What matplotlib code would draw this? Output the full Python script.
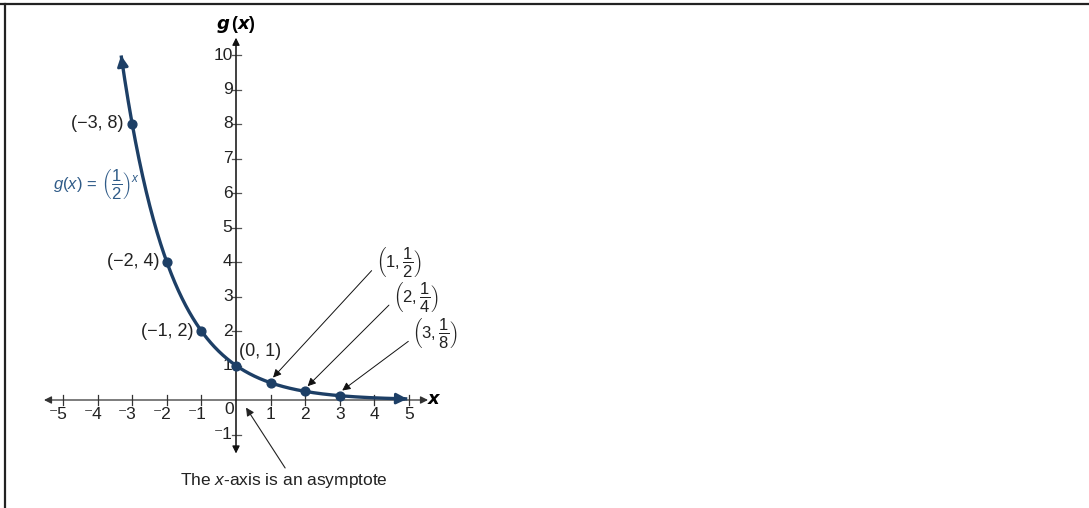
import numpy as np
import matplotlib
matplotlib.use("Agg")
import matplotlib.pyplot as plt
from matplotlib.lines import Line2D

plt.rcParams['font.family'] = ['Liberation Sans', 'DejaVu Sans']
plt.rcParams['mathtext.fontset'] = 'custom'
plt.rcParams['mathtext.rm'] = 'Liberation Sans'
plt.rcParams['mathtext.it'] = 'Liberation Sans:italic'
plt.rcParams['mathtext.bf'] = 'Liberation Sans:bold'

# data
x_pts = [-3, -2, -1, 0, 1, 2, 3]
y_pts = [8, 4, 2, 1, 0.5, 0.25, 0.125]
pt_labels = ['(−3, 8)', '(−2, 4)', '(−1, 2)', '(0, 1)']
frac_labels = [r'$\left(1,\dfrac{1}{2}\right)$', r'$\left(2,\dfrac{1}{4}\right)$',
               r'$\left(3,\dfrac{1}{8}\right)$']
x_ticks = [-5, -4, -3, -2, -1, 1, 2, 3, 4, 5]
y_ticks = [-1, 1, 2, 3, 4, 5, 6, 7, 8, 9, 10]
x_start, x_end = -3.32, 4.95


def g(x):
    return 0.5 ** x


curve_col = '#1d3f66'
func_col = '#2f5b88'

fig = plt.figure(figsize=(10.89, 5.08), dpi=100)
ax = fig.add_axes([0, 0, 1, 1])
ux = 34.6
uy = 34.5
ax.set_xlim(-236 / ux, (1089 - 236) / ux)
ax.set_ylim(-108 / uy, 400 / uy)
ax.axis('off')

# frame lines at top and left
fig.add_artist(Line2D([0, 1], [1 - 3.5 / 508] * 2, color='#222222', lw=1.6))
fig.add_artist(Line2D([4.5 / 1089] * 2, [0, 1 - 3.5 / 508], color='#222222', lw=1.6))

# axes
ax.annotate('', xy=(5.55, 0), xytext=(-5.55, 0),
            arrowprops=dict(arrowstyle='<|-|>', color='#333333', lw=0.9,
                            mutation_scale=11, shrinkA=0, shrinkB=0))
ax.annotate('', xy=(0, 10.5), xytext=(0, -1.55),
            arrowprops=dict(arrowstyle='<|-|>', color='#111111', lw=0.9,
                            mutation_scale=11, shrinkA=0, shrinkB=0))
ax.plot([0, 0], [-1.35, 10.3], color='#8a8a8a', lw=1.2, zorder=2)

for t in x_ticks:
    ax.plot([t, t], [-0.14, 0.14], color='#333333', lw=0.9)
    lab = str(t) if t > 0 else '⁻' + str(-t)
    if t > 0:
        ax.text(t, -0.42, lab, ha='center', va='center', fontsize=12.5, color='#222222')
    else:
        ax.text(t + 0.14, -0.42, lab, ha='right', va='center', fontsize=12.5, color='#222222')
ax.text(-0.2, -0.27, '0', ha='center', va='center', fontsize=12.5, color='#222222')

for t in y_ticks:
    ax.plot([-0.12, 0.15], [t, t], color='#555555', lw=0.9)
    lab = str(t) if t > 0 else '⁻' + str(-t)
    ax.text(-0.1, t, lab, ha='right', va='center', fontsize=12.5, color='#222222')

ax.text(0, 10.87, r'$\mathbfit{g}\,\mathbf{(}\mathbfit{x}\mathbf{)}$', ha='center',
        va='center', fontsize=13)
ax.text(5.72, 0, r'$\mathbfit{x}$', ha='center', va='center', fontsize=13)

# curve
xs = np.linspace(x_start, x_end, 400)
ax.plot(xs, g(xs), color=curve_col, lw=2.4, solid_capstyle='butt', zorder=3)
ax.annotate('', xy=(x_start, g(x_start)), xytext=(x_start + 0.03, g(x_start + 0.03)),
            arrowprops=dict(arrowstyle='-|>', color=curve_col, lw=2, mutation_scale=16,
                            shrinkA=0, shrinkB=0), zorder=4)
ax.annotate('', xy=(x_end, g(x_end)), xytext=(x_end - 0.1, g(x_end - 0.1)),
            arrowprops=dict(arrowstyle='-|>', color=curve_col, lw=2, mutation_scale=16,
                            shrinkA=0, shrinkB=0), zorder=4)
ax.scatter(x_pts, y_pts, s=40, color=curve_col, zorder=5)

# point labels
ax.text(-3.25, 8, pt_labels[0], ha='right', va='center', fontsize=13, color='#222222')
ax.text(-2.22, 4, pt_labels[1], ha='right', va='center', fontsize=13, color='#222222')
ax.text(-1.22, 2, pt_labels[2], ha='right', va='center', fontsize=13, color='#222222')
ax.text(0.1, 1.4, pt_labels[3], ha='left', va='center', fontsize=13, color='#222222')

ax.text(-5.3, 6.25, r'$g(x)\,=\,\left(\dfrac{1}{2}\right)^{x}$', ha='left', va='center',
        fontsize=12, color=func_col)

# arrows to the fractional points
text_pos = [(4.05, 4.0), (4.55, 3.0), (5.1, 1.95)]
tail_pos = [(3.92, 3.75), (4.42, 2.75), (4.98, 1.7)]
for i in range(3):
    px, py = x_pts[4 + i], y_pts[4 + i]
    ax.text(text_pos[i][0], text_pos[i][1], frac_labels[i], ha='left', va='center',
            fontsize=12, color='#222222')
    ax.annotate('', xy=(px + 0.07, py + 0.15), xytext=tail_pos[i],
                arrowprops=dict(arrowstyle='-|>', color='#111111', lw=0.7,
                                mutation_scale=12, shrinkA=0, shrinkB=0))

ax.annotate('', xy=(0.29, -0.22), xytext=(1.42, -1.97),
            arrowprops=dict(arrowstyle='-|>', color='#222222', lw=0.8,
                            mutation_scale=12, shrinkA=0, shrinkB=0))
ax.text(1.39, -2.33, r'The $x$-axis is an asymptote', ha='center', va='center',
        fontsize=12.5, color='#222222')

fig.savefig('out.png', dpi=100)
